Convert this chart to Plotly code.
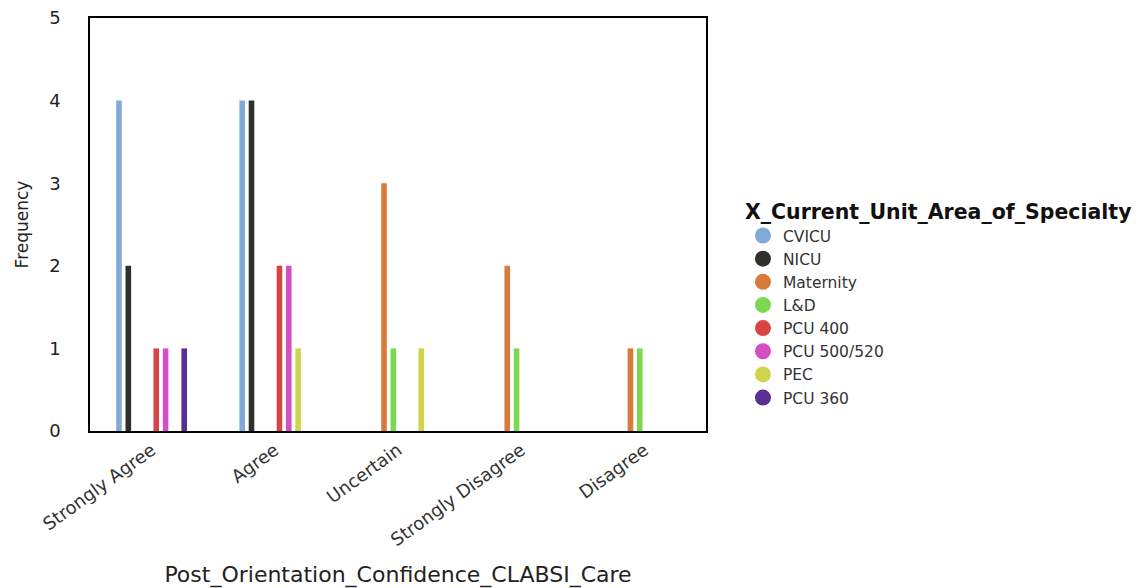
import plotly.graph_objects as go

categories = ["Strongly Agree", "Agree", "Uncertain", "Strongly Disagree", "Disagree"]
series_names = ["CVICU", "NICU", "Maternity", "L&D", "PCU 400", "PCU 500/520", "PEC", "PCU 360"]
cvicu = [4, 4, None, None, None]
nicu = [2, 4, None, None, None]
maternity = [None, None, 3, 2, 1]
lnd = [None, None, 1, 1, 1]
pcu400 = [1, 2, None, None, None]
pcu500 = [1, 2, None, None, None]
pec = [None, 1, 1, None, None]
pcu360 = [1, None, None, None, None]
series_values = [cvicu, nicu, maternity, lnd, pcu400, pcu500, pec, pcu360]
colors = ["#80aad8", "#2f302c", "#d9793a", "#7ad94f", "#d84343", "#d44fc6", "#cfd54a", "#5a2e92"]

FONT = "DejaVu Sans, Liberation Sans, Arial, sans-serif"

fig = go.Figure()
for name, vals, c in zip(series_names, series_values, colors):
    fig.add_trace(go.Bar(x=categories, y=vals, name=name, marker_color=c,
                         marker_line_width=0, showlegend=False))
for name, c in zip(series_names, colors):
    fig.add_trace(go.Scatter(x=[None], y=[None], mode="markers", name=name,
                             marker=dict(symbol="circle", size=16, color=c)))

fig.update_layout(
    width=1139, height=588,
    margin=dict(l=90, r=433, t=18, b=157, autoexpand=False),
    paper_bgcolor="white", plot_bgcolor="white",
    barmode="group", bargap=0.395, bargroupgap=0.4,
    font=dict(family=FONT, size=16, color="#333333"),
    xaxis=dict(type="category", categoryorder="array", categoryarray=categories,
               range=[-0.5, 4.5], tickangle=-36, showgrid=False, zeroline=False,
               showline=True, linecolor="black", linewidth=1.5, mirror=True,
               ticks="", automargin=False, tickfont=dict(size=18, color="#333333"),
               title=dict(text="Post_Orientation_Confidence_CLABSI_Care",
                          font=dict(size=22, color="#222222"), standoff=18)),
    yaxis=dict(range=[0, 5], tickvals=[0, 1, 2, 3, 4, 5], showgrid=False, zeroline=False,
               showline=True, linecolor="black", linewidth=1.5, mirror=True,
               ticks="", automargin=False, ticklabelstandoff=24,
               tickfont=dict(size=18, color="#222222"),
               title=dict(text="Frequency", font=dict(size=17, color="#222222"), standoff=16)),
    legend=dict(title=dict(text="<b>X_Current_Unit_Area_of_Specialty</b>",
                           font=dict(size=20.5, color="#111111")),
                x=1.06, xanchor="left", y=0.578, yanchor="top",
                font=dict(size=15.5, color="#333333"), tracegroupgap=0,
                itemsizing="trace", bgcolor="rgba(0,0,0,0)"),
)

fig.write_html("out.html", config={"displayModeBar": False},
               post_script="document.body.style.margin='0';")
